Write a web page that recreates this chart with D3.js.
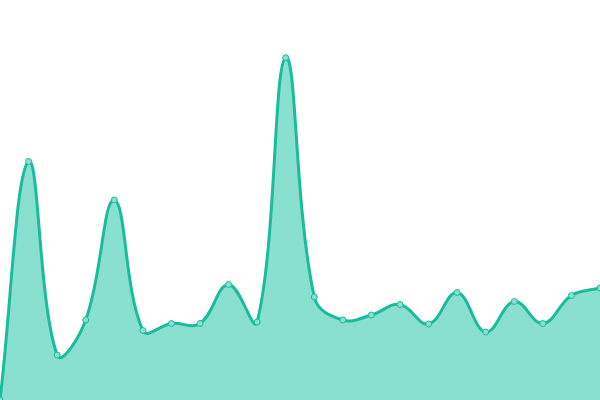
<!DOCTYPE html>
<html>
<head>
<meta charset="utf-8">
<script src="https://cdn.jsdelivr.net/npm/d3@7"></script>
<style>
  html, body { margin: 0; padding: 0; background: #fff; }
  svg { display: block; }
</style>
</head>
<body>
<div id="chart"></div>
<script>
const indices = d3.range(22);
const values = [0, 238.5, 45, 80, 200, 69.5, 76.5, 76.5, 115.5, 78, 342.3, 103,
  80, 85, 95.5, 76, 107.5, 68, 98.5, 76.5, 104.5, 112];

const width = 600, height = 400;
const lineColor = "#1abc9c", fillColor = "#89e0cf";

const svg = d3.select("#chart")
  .append("svg")
  .attr("width", width)
  .attr("height", height);

const x = d3.scaleLinear()
  .domain([0, indices.length - 1])
  .range([0, width]);

const y = d3.scaleLinear()
  .domain([0, 400])
  .range([height, 0]);

const pts = values.map((v, i) => ({ x: x(i), y: y(v) }));

// spline with distance weighted control points (tension 0.4), kept inside the area
function controls(p, t) {
  const clamp = (v, lo, hi) => Math.max(lo, Math.min(hi, v));
  return p.map((cur, i) => {
    const prev = p[i - 1] || cur, next = p[i + 1] || cur;
    const d01 = Math.hypot(cur.x - prev.x, cur.y - prev.y);
    const d12 = Math.hypot(next.x - cur.x, next.y - cur.y);
    const s01 = d01 / (d01 + d12) || 0, s12 = d12 / (d01 + d12) || 0;
    const fa = t * s01, fb = t * s12;
    return {
      px: clamp(cur.x - fa * (next.x - prev.x), 0, width),
      py: clamp(cur.y - fa * (next.y - prev.y), 0, height),
      nx: clamp(cur.x + fb * (next.x - prev.x), 0, width),
      ny: clamp(cur.y + fb * (next.y - prev.y), 0, height)
    };
  });
}

function spline(p, closeToBase) {
  const c = controls(p, 0.4);
  const path = d3.path();
  path.moveTo(p[0].x, p[0].y);
  for (let i = 1; i < p.length; i++) {
    path.bezierCurveTo(c[i - 1].nx, c[i - 1].ny, c[i].px, c[i].py, p[i].x, p[i].y);
  }
  if (closeToBase) {
    path.lineTo(p[p.length - 1].x, y(0));
    path.lineTo(p[0].x, y(0));
    path.closePath();
  }
  return path.toString();
}

svg.append("path")
  .attr("d", spline(pts, true))
  .attr("fill", fillColor);

svg.append("path")
  .attr("d", spline(pts, false))
  .attr("fill", "none")
  .attr("stroke", lineColor)
  .attr("stroke-width", 3);

svg.selectAll("circle")
  .data(values)
  .join("circle")
  .attr("cx", (d, i) => x(i))
  .attr("cy", d => y(d))
  .attr("r", 3)
  .attr("fill", fillColor)
  .attr("stroke", lineColor)
  .attr("stroke-width", 1);
</script>
</body>
</html>
